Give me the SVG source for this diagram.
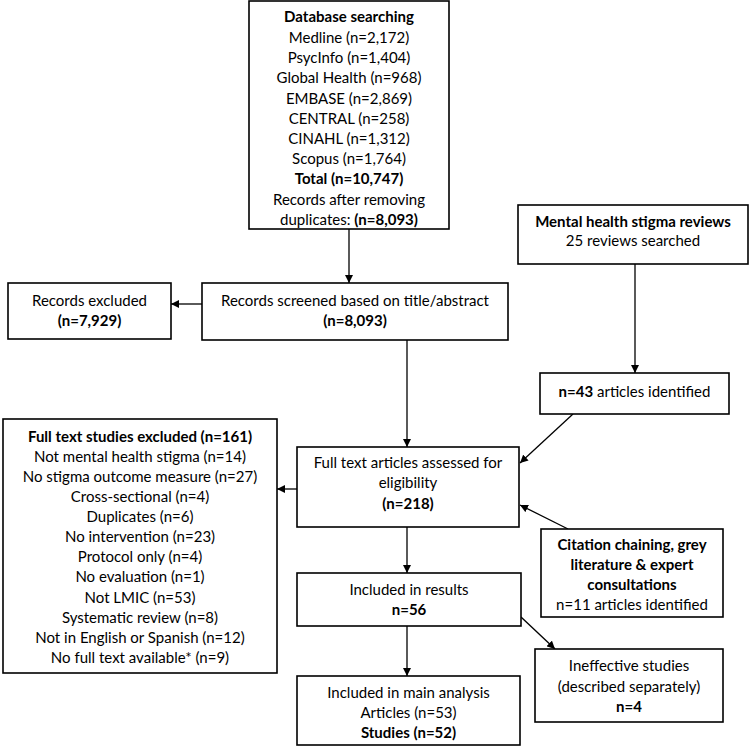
<svg xmlns="http://www.w3.org/2000/svg" width="750" height="753" viewBox="0 0 750 753">
<style>
  .box { fill: #ffffff; stroke: #000000; stroke-width: 1.6; }
  text { font-family: Lato, "Open Sans", "Liberation Sans", sans-serif; font-size: 15px; fill: #000000; text-anchor: middle; }
  .b { font-weight: bold; }
  .conn { stroke: #000000; stroke-width: 1.3; fill: none; marker-end: url(#arrow); }
</style>
<defs>
  <marker id="arrow" viewBox="0 0 10 10" refX="10" refY="5" markerWidth="8" markerHeight="8" markerUnits="userSpaceOnUse" orient="auto">
    <path d="M0,0 L10,5 L0,10 z" fill="#000000"/>
  </marker>
</defs>
<rect width="750" height="753" fill="#ffffff"/>

<g id="connectors">
  <line class="conn" x1="349" y1="229" x2="349" y2="283"/>
  <line class="conn" x1="202" y1="304" x2="171" y2="304"/>
  <line class="conn" x1="407" y1="340" x2="407" y2="447"/>
  <line class="conn" x1="635" y1="264" x2="635" y2="373"/>
  <line class="conn" x1="573" y1="414" x2="520" y2="463"/>
  <line class="conn" x1="568" y1="529" x2="520" y2="505"/>
  <line class="conn" x1="297" y1="489" x2="277" y2="489"/>
  <line class="conn" x1="407" y1="527" x2="407" y2="573"/>
  <line class="conn" x1="521" y1="617" x2="555" y2="649"/>
  <line class="conn" x1="407" y1="626" x2="407" y2="676"/>
</g>

<g id="database">
  <rect class="box" x="249" y="1" width="200" height="228"/>
  <text x="349" y="22" class="b">Database searching</text>
  <text x="349" y="43">Medline (n=2,172)</text>
  <text x="349" y="63">PsycInfo (n=1,404)</text>
  <text x="349" y="83">Global Health (n=968)</text>
  <text x="349" y="104">EMBASE (n=2,869)</text>
  <text x="349" y="124">CENTRAL (n=258)</text>
  <text x="349" y="144">CINAHL (n=1,312)</text>
  <text x="349" y="164">Scopus (n=1,764)</text>
  <text x="349" y="184" class="b">Total (n=10,747)</text>
  <text x="349" y="205">Records after removing</text>
  <text x="349" y="225">duplicates: <tspan class="b">(n=8,093)</tspan></text>
</g>

<g id="mental-health-reviews">
  <rect class="box" x="518" y="205" width="230" height="59"/>
  <text x="633" y="227" class="b">Mental health stigma reviews</text>
  <text x="633" y="246">25 reviews searched</text>
</g>

<g id="records-excluded">
  <rect class="box" x="8" y="283" width="163" height="56"/>
  <text x="89.5" y="306">Records excluded</text>
  <text x="89.5" y="326" class="b">(n=7,929)</text>
</g>

<g id="records-screened">
  <rect class="box" x="202" y="283" width="306" height="57"/>
  <text x="355" y="306">Records screened based on title/abstract</text>
  <text x="355" y="326" class="b">(n=8,093)</text>
</g>

<g id="articles-identified">
  <rect class="box" x="540" y="373" width="189" height="41"/>
  <text x="634.5" y="397"><tspan class="b">n=43</tspan> articles identified</text>
</g>

<g id="full-text-excluded">
  <rect class="box" x="3" y="419" width="274" height="254"/>
  <text x="140" y="442" class="b">Full text studies excluded (n=161)</text>
  <text x="140" y="462">Not mental health stigma (n=14)</text>
  <text x="140" y="482">No stigma outcome measure (n=27)</text>
  <text x="140" y="502">Cross-sectional (n=4)</text>
  <text x="140" y="522">Duplicates (n=6)</text>
  <text x="140" y="542">No intervention (n=23)</text>
  <text x="140" y="562">Protocol only (n=4)</text>
  <text x="140" y="582">No evaluation (n=1)</text>
  <text x="140" y="603">Not LMIC (n=53)</text>
  <text x="140" y="623">Systematic review (n=8)</text>
  <text x="140" y="643">Not in English or Spanish (n=12)</text>
  <text x="140" y="663">No full text available* (n=9)</text>
</g>

<g id="full-text-assessed">
  <rect class="box" x="297" y="447" width="222" height="80"/>
  <text x="408" y="468">Full text articles assessed for</text>
  <text x="408" y="488">eligibility</text>
  <text x="408" y="509" class="b">(n=218)</text>
</g>

<g id="citation-chaining">
  <rect class="box" x="541" y="529" width="182" height="88"/>
  <text x="632" y="550" class="b">Citation chaining, grey</text>
  <text x="632" y="570" class="b">literature &amp; expert</text>
  <text x="632" y="590" class="b">consultations</text>
  <text x="632" y="610">n=11 articles identified</text>
</g>

<g id="included-results">
  <rect class="box" x="297" y="573" width="224" height="53"/>
  <text x="409" y="595">Included in results</text>
  <text x="409" y="615" class="b">n=56</text>
</g>

<g id="ineffective-studies">
  <rect class="box" x="535" y="649" width="188" height="73"/>
  <text x="629" y="671">Ineffective studies</text>
  <text x="629" y="692">(described separately)</text>
  <text x="629" y="712" class="b">n=4</text>
</g>

<g id="main-analysis">
  <rect class="box" x="297" y="676" width="223" height="69"/>
  <text x="408.5" y="698">Included in main analysis</text>
  <text x="408.5" y="718">Articles (n=53)</text>
  <text x="408.5" y="738" class="b">Studies (n=52)</text>
</g>
</svg>
